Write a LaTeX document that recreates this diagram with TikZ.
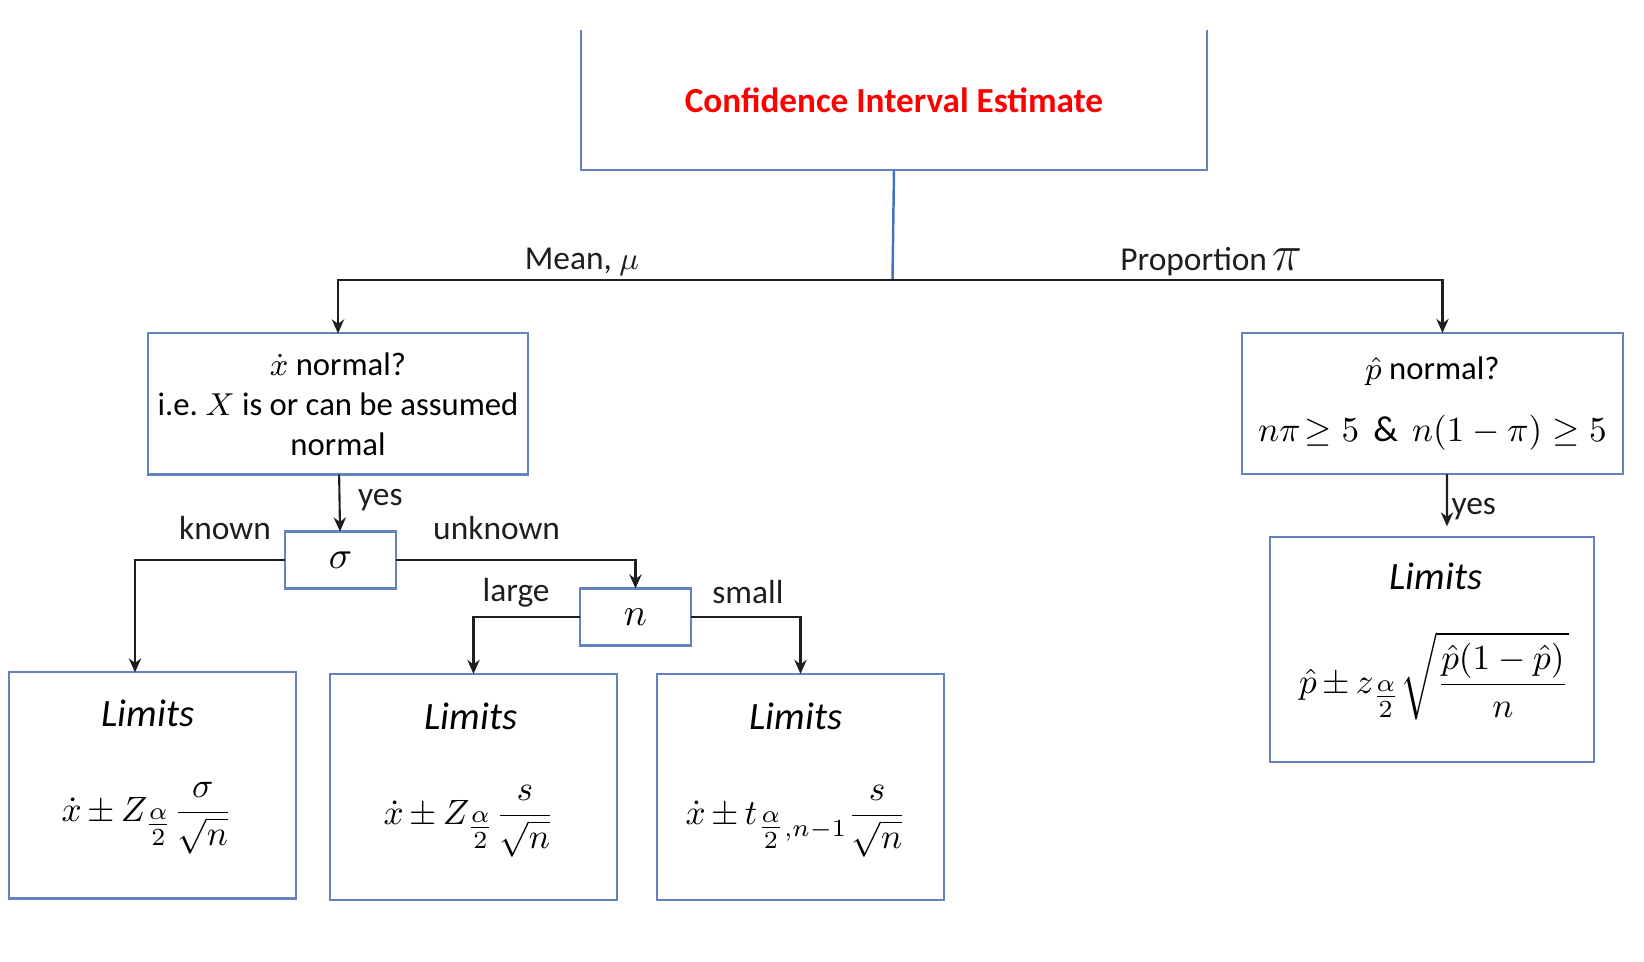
\documentclass[tikz,border=0pt]{standalone}
\usepackage{amsmath,amssymb}
\usepackage{fontspec}
\setmainfont{Carlito}
\usepackage{tikz}
\usetikzlibrary{arrows.meta, positioning, calc}
\definecolor{cFrame}{RGB}{100,130,192}
\definecolor{cStem}{RGB}{68,114,196}
\definecolor{cTitle}{RGB}{255,0,0}
\definecolor{cLine}{RGB}{30,30,30}
\tikzset{
  basebox/.style={rectangle, draw=cFrame, line width=0.6pt, inner sep=0pt,
                  outer sep=0pt, align=center, font=\fontsize{9.3}{11.4}\selectfont},
  testnode/.style={basebox, minimum width=3.8cm, minimum height=1.41cm},
  varnode/.style={basebox, minimum width=1.11cm, minimum height=0.57cm,
                  font=\fontsize{11}{13}\selectfont},
  limitnode/.style={basebox, minimum width=2.87cm, minimum height=2.26cm},
  labeltext/.style={font=\fontsize{9.5}{11.4}\selectfont, inner sep=1pt},
  mathtext/.style={font=\fontsize{11}{13}\selectfont, inner sep=0pt},
  formula/.style={font=\fontsize{10.3}{12}\selectfont, inner sep=0pt},
  arrow/.style={-{Stealth[length=4pt,width=3.5pt]}, line width=0.6pt, color=cLine},
  stemline/.style={line width=0.7pt, color=cStem}
}
\begin{document}
\begin{tikzpicture}[x=0.01cm, y=-0.01cm]
  \useasboundingbox (0,0) rectangle (1644,962);
  \node[basebox, draw=none, minimum width=6.25cm, minimum height=1.40cm, text=cTitle,
        font=\fontsize{10}{12}\selectfont\bfseries] (ciest) at (894,100)
      {Confidence Interval Estimate};
  \draw[cFrame, line width=0.6pt] (ciest.north west) -- (ciest.south west)
      -- (ciest.south east) -- (ciest.north east);

  \node[testnode] (xnorm) at (338,404)
      {$\dot{x}$ normal?\\ i.e.\ $X$ is or can be assumed\\ normal};
  \node[testnode, minimum width=3.81cm] (pnorm) at (1432.5,403.5)
      {$\hat{p}$ normal?\\[6pt] {\fontsize{10.3}{12}\selectfont$n\pi\!\geq 5\ \,\&\ \,n(1-\pi) \geq 5$}};
  \node[varnode] (sig) at (340.5,560) {$\sigma$};
  \node[varnode] (nbox) at (635.5,617) {$n$};

  \node[limitnode] (limA) at (152.5,785.5) {};
  \node[limitnode] (limB) at (473.5,787) {};
  \node[limitnode] (limC) at (800.5,787) {};
  \node[limitnode, minimum width=3.24cm, minimum height=2.25cm] (limD) at (1432,649.5) {};

  \node[mathtext] (limAt) at (148,713) {$\mathit{Limits}$};
  \node[formula] (limAf) at (147,818)
      {$\displaystyle \dot{x}\,{\pm}\,Z_{\textstyle\frac{\alpha}{2}} \frac{\sigma}{\sqrt{n}}$};
  \node[mathtext] (limBt) at (471,716) {$\mathit{Limits}$};
  \node[formula] (limBf) at (469,821)
      {$\displaystyle \dot{x}\,{\pm}\,Z_{\textstyle\frac{\alpha}{2}} \frac{s}{\sqrt{n}}$};
  \node[mathtext] (limCt) at (796,716) {$\mathit{Limits}$};
  \node[formula] (limCf) at (796,821)
      {$\displaystyle \dot{x}\,{\pm}\,t_{\textstyle\frac{\alpha}{2}\scriptstyle,n-1} \frac{s}{\sqrt{n}}$};
  \node[mathtext] (limDt) at (1436,576) {$\mathit{Limits}$};
  \node[formula] (limDf) at (1434,676)
      {$\displaystyle \hat{p}\,{\pm}\,z_{\textstyle\frac{\alpha}{2}} \sqrt{\frac{\hat{p}(1-\hat{p})}{n}}$};

  \coordinate (split) at (892.5,280);
  \draw[stemline] (ciest.south) -- (split);
  \draw[arrow] (split) -| node[labeltext, above, pos=0.28] {Mean, $\mu$} (xnorm.north);
  \draw[arrow] (split) -| node[labeltext, above, pos=0.29] {Proportion\,{\Large$\pi$}}
      ([xshift=0.1cm]pnorm.north);
  \draw[arrow] (xnorm) -- node[labeltext, right=4pt, pos=0.45] {yes} (sig);
  \draw[arrow] (sig.west) -| node[labeltext, above=4.5pt, pos=0.2] {known}
      ([xshift=-0.175cm]limA.north);
  \draw[arrow] (sig.east) -| node[labeltext, above=4.5pt, pos=0.21] {unknown} (nbox.north);
  \draw[arrow] (nbox.west) -| node[labeltext, above=1.5pt, pos=0.3] {large} (limB.north);
  \draw[arrow] (nbox.east) -| node[labeltext, above=2.5pt, pos=0.26] {small} (limC.north);
  \draw[arrow, shorten >=3pt] ([xshift=0.145cm]pnorm.south) --
      node[labeltext, right, pos=0.55] {yes} ([xshift=0.15cm]limD.north);
\end{tikzpicture}
\end{document}
